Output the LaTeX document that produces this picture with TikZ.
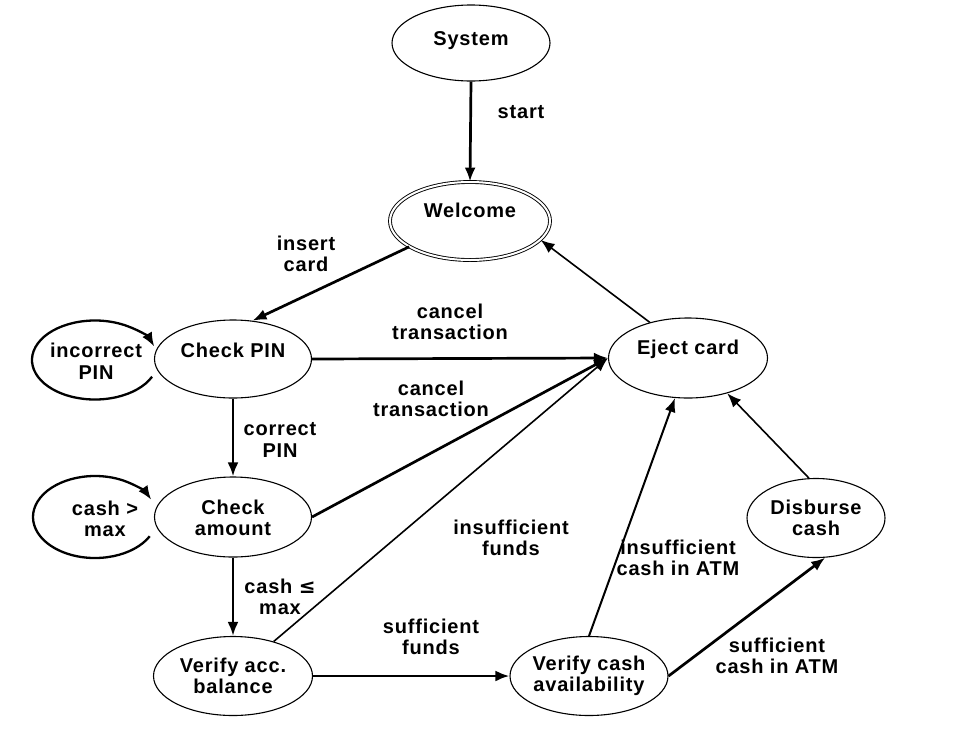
\documentclass[tikz,border=0pt]{standalone}
\usepackage{fontspec}
\setmainfont{Liberation Sans}[LetterSpace=4]
\usetikzlibrary{shapes.geometric,arrows.meta,calc}
\begin{document}
\begin{tikzpicture}[x=1pt,y=-1pt,
  state/.style={ellipse,draw,line width=1.1pt,inner sep=0pt},
  txt/.style={font=\bfseries\fontsize{20}{21.5}\selectfont,align=center,inner sep=0pt},
  tip/.style={-{Latex[length=14pt,width=11pt]}},
  thickarr/.style={tip,line width=2.7pt},
  midarr/.style={tip,line width=2pt},
  thinarr/.style={tip,line width=1.6pt},
  selfloop/.style={tip,line width=2.3pt}]
\useasboundingbox (0,0) rectangle (953,737);
% states
\node[state,minimum width=158pt,minimum height=76pt] (system) at (471,43) {};
\node[txt] (systemt) at (471,41) {System};
\node[state,double,double distance=2pt,line width=0.9pt,minimum width=160pt,minimum height=78pt] (welcome) at (470,221) {};
\node[txt] (welcomet) at (470,210) {Welcome};
\node[state,minimum width=157pt,minimum height=78pt] (pin) at (233,359) {};
\node[txt] (pint) at (233,350) {Check PIN};
\node[state,minimum width=157pt,minimum height=80pt] (camt) at (233,517) {};
\node[txt] (camtt) at (233,518) {Check\\amount};
\node[state,minimum width=159pt,minimum height=79pt] (vab) at (233,676) {};
\node[txt] (vabt) at (233,676) {Verify acc.\\balance};
\node[state,minimum width=158pt,minimum height=79pt] (vca) at (589,676) {};
\node[txt] (vcat) at (589,676) {Verify cash\\availability};
\node[state,minimum width=138pt,minimum height=79pt] (disb) at (816,518) {};
\node[txt] (disbt) at (816,518) {Disburse\\cash};
\node[state,minimum width=159pt,minimum height=80pt] (eject) at (688,358) {};
\node[txt] (ejectt) at (688,349) {Eject card};
% self loops
\node[txt] (l1) at (96,361) {incorrect\\PIN};
\draw[selfloop] ([shift={(25:63 and 39.5)}]95,360) arc[start angle=25,end angle=340,x radius=63,y radius=39.5];
\node[txt] (l2) at (105,519) {cash >\\max};
\draw[selfloop] ([shift={(28:62 and 41)}]95,517) arc[start angle=28,end angle=335,x radius=62,y radius=41];
% transitions
\draw[thickarr] (system.south) -- (welcome.north);
\draw[thickarr] (welcome.203) -- (pin.63);
\draw[thickarr] (pin.east) -- (eject.west);
\draw[thickarr] (camt.east) -- (eject.west);
\draw[thinarr] (vab) -- (eject.west);
\draw[thickarr] (pin.south) -- (camt.north);
\draw[thickarr] (camt.south) -- (vab.north);
\draw[thickarr] (vab.east) -- (vca.west);
\draw[midarr] (vca.north) -- (eject.252);
\draw[thickarr] (vca.east) -- (disb.283);
\draw[thinarr] (disb.100) -- (eject.318);
\draw[thinarr] (eject.137) -- (welcome.-15);
% labels
\node[txt] (lstart) at (521,112) {start};
\node[txt] (linsert) at (306,254) {insert\\card};
\node[txt] (lcancel1) at (450,322) {cancel\\transaction};
\node[txt] (lcancel2) at (431,399) {cancel\\transaction};
\node[txt] (lcorrect) at (280,440) {correct\\PIN};
\node[txt] (lcashle) at (280,597) {cash {\fontspec{DejaVu Sans}[LetterSpace=0]\bfseries ≤}\\max};
\node[txt] (linsf) at (511,538) {insufficient\\funds};
\node[txt] (lsf) at (431,637) {sufficient\\funds};
\node[txt] (linsc) at (678,558) {insufficient\\cash in ATM};
\node[txt] (lsc) at (777,656) {sufficient\\cash in ATM};
\end{tikzpicture}
\end{document}
